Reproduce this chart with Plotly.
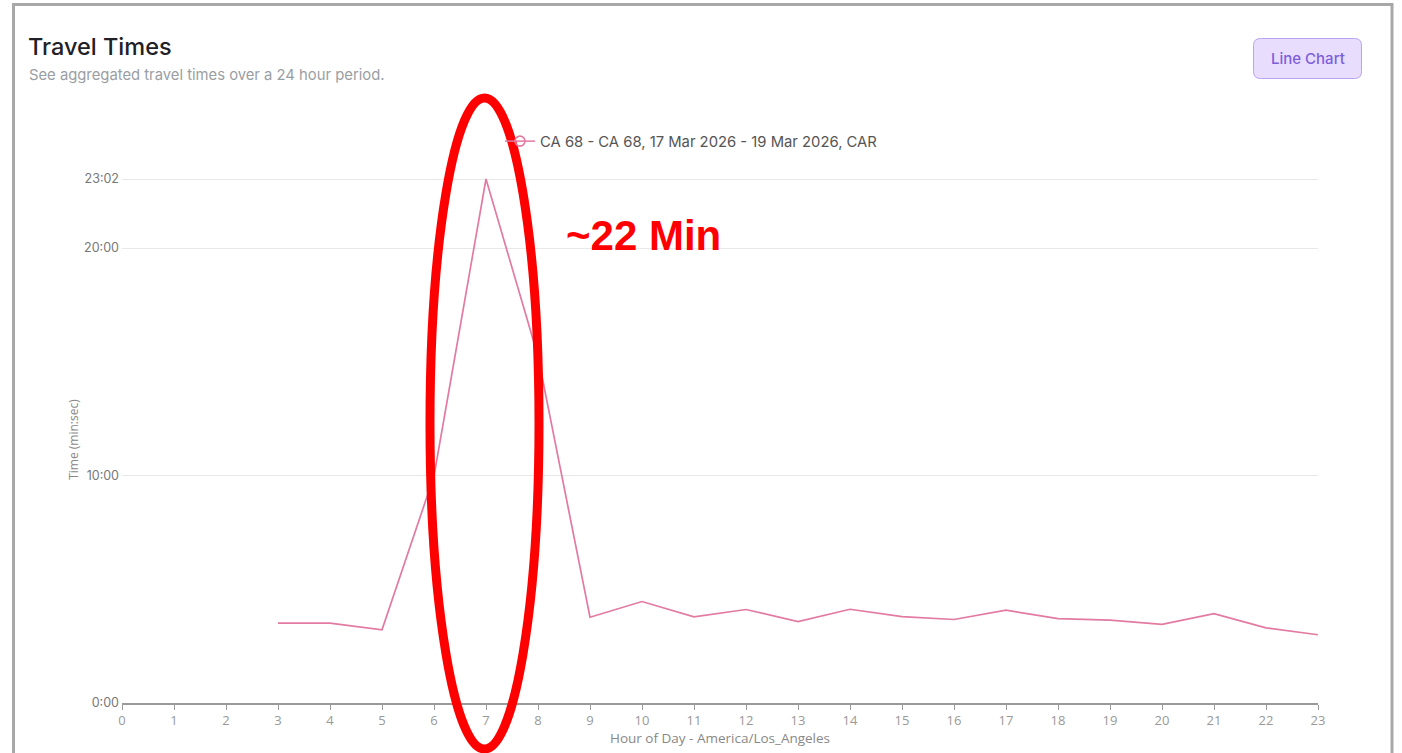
import plotly.graph_objects as go

# Aggregated travel time per hour of day (minutes)
hours = [3, 4, 5, 6, 7, 8, 9, 10, 11, 12, 13, 14, 15, 16, 17, 18, 19, 20, 21, 22, 23]
travel_minutes = [3.51, 3.51, 3.22, 9.98, 23.0333, 15.24, 3.77, 4.46, 3.79, 4.11, 3.58,
                  4.12, 3.80, 3.67, 4.08, 3.71, 3.64, 3.46, 3.93, 3.30, 3.00]
series_name = "CA 68 - CA 68, 17 Mar 2026 - 19 Mar 2026, CAR"
y_ticks = [0, 10, 20, 23.0333]
x_ticks = list(range(0, 24))

W, H = 1402, 753
L, R, T, B = 122, 84, 176, 50
PW, PH = W - L - R, H - T - B
# headroom above the top tick so its gridline is drawn (about 3 px)
Y_TOP = y_ticks[-1] + 3 * y_ticks[-1] / (PH - 3)

PINK = "#e27aa2"


def mmss(v):
    total = int(round(v * 60))
    return f"{total // 60}:{total % 60:02d}"


def px(x):
    return (x - L) / PW


def py(y):
    return (H - B - y) / PH


def rounded_rect(x0, y0, x1, y1, r):
    # rounded rectangle path in paper coordinates from pixel bounds
    a, b, c, d = px(x0), px(x1), py(y0), py(y1)
    rx, ry = r / PW, r / PH
    return (f"M{a + rx},{c} L{b - rx},{c} Q{b},{c} {b},{c - ry} "
            f"L{b},{d + ry} Q{b},{d} {b - rx},{d} L{a + rx},{d} "
            f"Q{a},{d} {a},{d + ry} L{a},{c - ry} Q{a},{c} {a + rx},{c} Z")


fig = go.Figure()
fig.add_trace(go.Scatter(
    x=hours, y=travel_minutes, mode="lines",
    line=dict(color=PINK, width=1.7), showlegend=False, name=series_name,
))
# legend entry drawn with an open circle marker
fig.add_trace(go.Scatter(
    x=[None], y=[None], mode="lines+markers", name=series_name,
    line=dict(color=PINK, width=1.5),
    marker=dict(symbol="circle-open", size=10, color=PINK, line=dict(width=1.6)),
))

shapes = [
    # card border
    dict(type="rect", xref="paper", yref="paper",
         x0=px(13.5), x1=px(1392), y0=py(4.5), y1=py(790),
         line=dict(color="#a8a8a8", width=3), fillcolor="rgba(0,0,0,0)", layer="below"),
    # "Line Chart" button
    dict(type="path", xref="paper", yref="paper",
         path=rounded_rect(1253.5, 38.5, 1361.5, 78.5, 7),
         fillcolor="#e9ddfd", line=dict(color="#b9a3f1", width=1)),
    # highlight around the morning peak
    dict(type="circle", xref="paper", yref="paper",
         x0=px(430), x1=px(539), y0=py(749), y1=py(98),
         line=dict(color="#ff0000", width=9), layer="above"),
]

annotations = [
    dict(text="Travel Times", xref="paper", yref="paper", x=px(25.5), y=py(47),
         xanchor="left", yanchor="middle", showarrow=False,
         font=dict(family="Inter", size=23.5, color="#1f2126", weight=500)),
    dict(text="See aggregated travel times over a 24 hour period.", xref="paper", yref="paper",
         x=px(26.5), y=py(75), xanchor="left", yanchor="middle", showarrow=False,
         font=dict(family="Inter", size=14.8, color="#9a9ea4")),
    dict(text="Line Chart", xref="paper", yref="paper", x=px(1307.5), y=py(58.5),
         xanchor="center", yanchor="middle", showarrow=False,
         font=dict(family="Inter", size=15, color="#7c5ddb", weight=500)),
    dict(text="<b>~22 Min</b>", xref="paper", yref="paper", x=px(643), y=py(235),
         xanchor="center", yanchor="middle", showarrow=False,
         font=dict(family="Liberation Sans, Arial", size=42, color="#ff0000")),
]

fig.update_layout(
    width=W, height=H, autosize=False,
    margin=dict(l=L, r=R, t=T, b=B),
    paper_bgcolor="white", plot_bgcolor="white",
    font=dict(family="Open Sans", color="#888"),
    shapes=shapes, annotations=annotations,
    showlegend=True,
    legend=dict(x=px(500), y=py(125), xanchor="left", yanchor="top",
                font=dict(family="Inter", size=14.8, color="#555"),
                bgcolor="rgba(0,0,0,0)", itemwidth=30),
    xaxis=dict(
        range=[0, 23], tickvals=x_ticks, ticktext=[str(t) for t in x_ticks],
        showgrid=False, zeroline=False, showline=True, linecolor="#9a9a9a", linewidth=1.5,
        ticks="outside", ticklen=5, tickcolor="#9a9a9a", tickwidth=1,
        tickfont=dict(family="Open Sans", size=13, color="#999"),
        title=dict(text="Hour of Day - America/Los_Angeles", standoff=2,
                   font=dict(family="Open Sans", size=13.5, color="#888")),
    ),
    yaxis=dict(
        range=[0, Y_TOP], tickvals=y_ticks, ticktext=[mmss(v) for v in y_ticks],
        showgrid=True, gridcolor="#e8e8e8", gridwidth=1, zeroline=False, showline=False,
        ticks="", ticklabelstandoff=2,
        tickfont=dict(family="Inter", size=12.5, color="#777"),
        title=dict(text="Time (min:sec)", standoff=2,
                   font=dict(family="Open Sans", size=12, color="#888")),
    ),
)

fig.write_html("out.html")
